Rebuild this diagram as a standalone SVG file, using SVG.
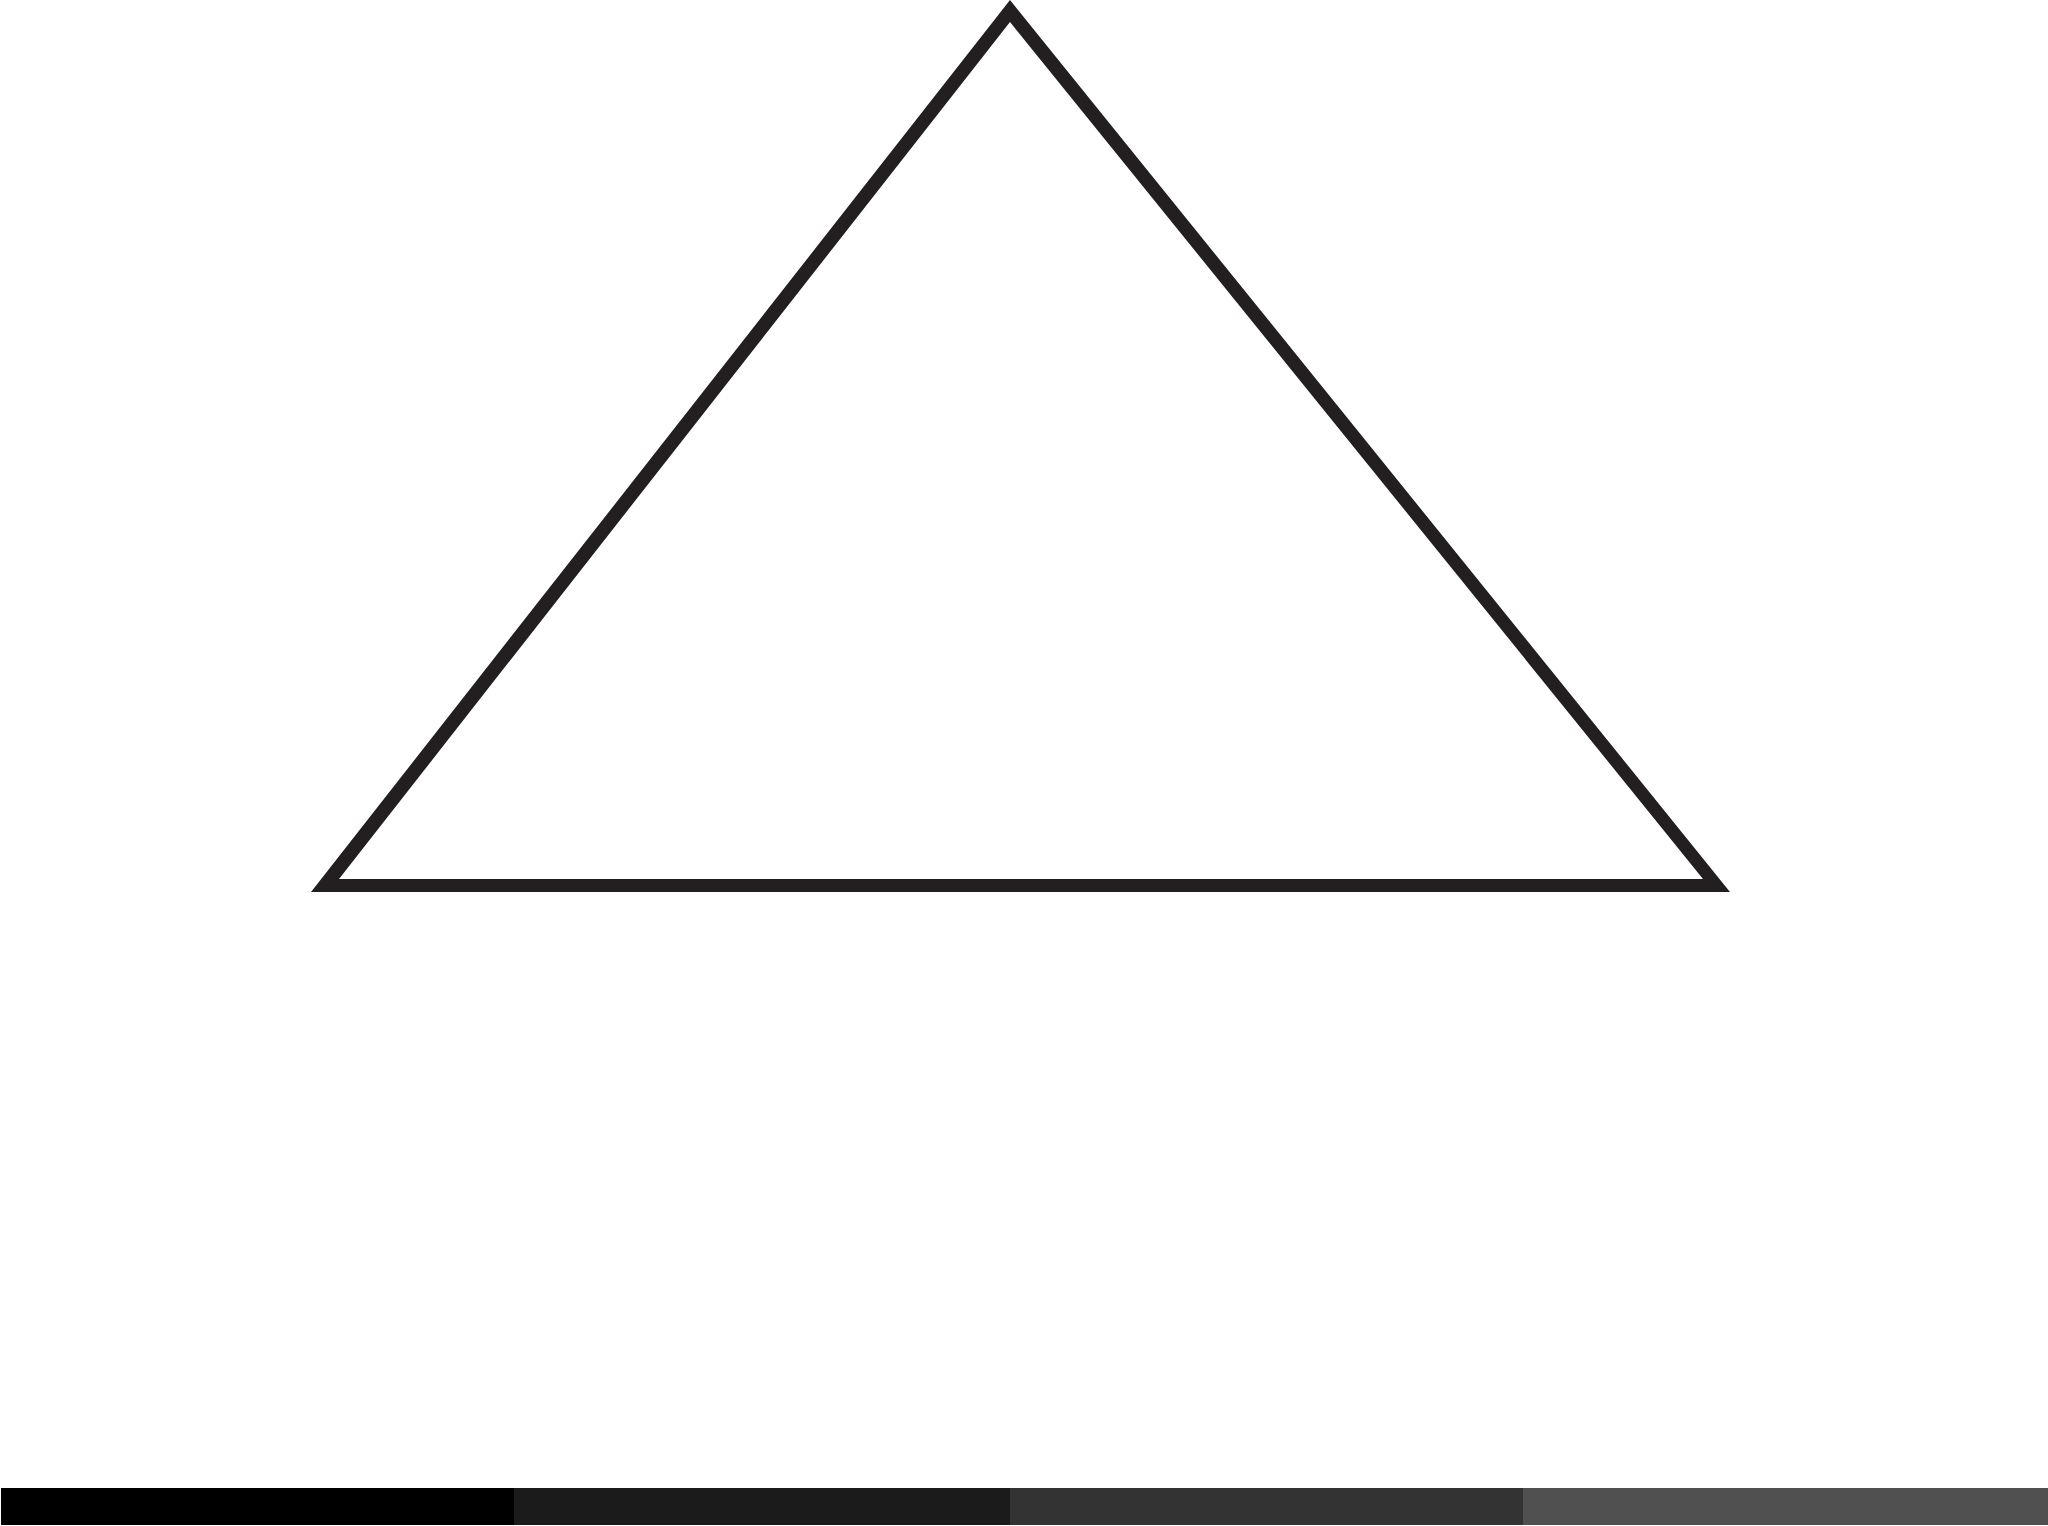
<svg xmlns="http://www.w3.org/2000/svg" width="2048" height="1526" viewBox="0 0 2048 1526">
<style>
.tri{fill:#231f20;fill-rule:evenodd;}
</style>
<rect width="2048" height="1526" fill="#ffffff"/>
<g id="triangle">
<path class="tri" d="M1010,0 L311,892 L1730,892 Z M1010,22 L1703,879 L339,879 Z"/>
</g>
<g id="bars">
<rect x="1" y="1488" width="513" height="37" fill="#000000"/>
<rect x="514" y="1488" width="496" height="37" fill="#1b1b1b"/>
<rect x="1010" y="1488" width="513" height="37" fill="#333333"/>
<rect x="1523" y="1488" width="525" height="37" fill="#505050"/>
</g>
</svg>
